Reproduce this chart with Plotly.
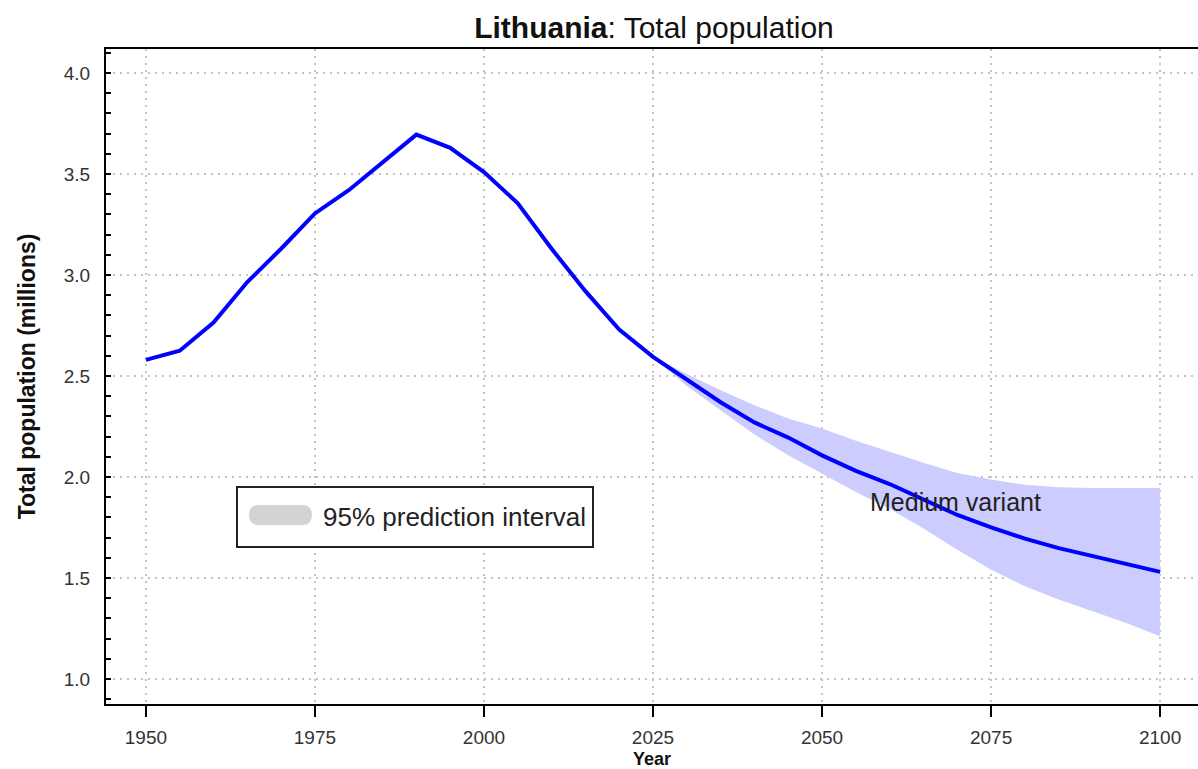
import plotly.graph_objects as go

# ---- data ----
years = [1950, 1955, 1960, 1965, 1970, 1975, 1980, 1985, 1990, 1995, 2000,
         2005, 2010, 2015, 2020, 2025, 2030, 2035, 2040, 2045, 2050, 2055,
         2060, 2065, 2070, 2075, 2080, 2085, 2090, 2095, 2100]
medium = [2.58, 2.625, 2.765, 2.965, 3.13, 3.305, 3.42, 3.56, 3.695, 3.63, 3.51,
          3.355, 3.13, 2.92, 2.73, 2.595, 2.48, 2.37, 2.27, 2.195, 2.107, 2.03,
          1.965, 1.887, 1.812, 1.75, 1.695, 1.648, 1.607, 1.571, 1.53]

pi_years = [2025, 2030, 2035, 2040, 2045, 2050, 2055, 2060, 2065, 2070, 2075,
            2080, 2085, 2090, 2095, 2100]
pi_upper = [2.595, 2.51, 2.43, 2.355, 2.29, 2.24, 2.18, 2.124, 2.07, 2.02, 1.987,
            1.962, 1.949, 1.946, 1.946, 1.946]
pi_lower = [2.595, 2.45, 2.33, 2.21, 2.107, 2.016, 1.926, 1.843, 1.745, 1.64, 1.541,
            1.459, 1.393, 1.335, 1.277, 1.211]

x_ticks = [1950, 1975, 2000, 2025, 2050, 2075, 2100]
y_ticks = [1.0, 1.5, 2.0, 2.5, 3.0, 3.5, 4.0]
y_tick_labels = ["1.0", "1.5", "2.0", "2.5", "3.0", "3.5", "4.0"]

title_bold = "Lithuania"
title_rest = ": Total population"
legend_label = "95% prediction interval"
variant_label = "Medium variant"

# ---- layout geometry (page pixels; body margin removed below) ----
W, H = 1198, 769
PL, PR, PT, PB = 106, 1198, 49, 704      # plot area in page pixels
ML, MR, MT, MB = PL, W - PR, PT, H - PB
PW = PR - PL
PH = PB - PT

def px(xp):
    return (xp - PL) / PW

def py(yp):
    return (PB - yp) / PH

FONT = "Liberation Sans, Arial, sans-serif"

fig = go.Figure()

fig.add_trace(go.Scatter(x=pi_years, y=pi_upper, mode="lines",
                         line=dict(width=0, color="rgba(0,0,0,0)"),
                         hoverinfo="skip", showlegend=False))
fig.add_trace(go.Scatter(x=pi_years, y=pi_lower, mode="lines",
                         line=dict(width=0, color="rgba(0,0,0,0)"),
                         fill="tonexty", fillcolor="#ccccff",
                         hoverinfo="skip", showlegend=False))
fig.add_trace(go.Scatter(x=years, y=medium, mode="lines",
                         line=dict(color="#0000ff", width=4),
                         showlegend=False, name="Medium variant"))

# legend box (drawn)
shapes = [
    dict(type="rect", xref="paper", yref="paper",
         x0=px(237), x1=px(593), y0=py(547), y1=py(487),
         line=dict(color="#222222", width=2), fillcolor="white", layer="above"),
]
bx0, bx1, by0, by1, r = 249, 312, 505, 525, 10
path = (f"M {px(bx0 + r)},{py(by0)} L {px(bx1 - r)},{py(by0)} "
        f"Q {px(bx1)},{py(by0)} {px(bx1)},{py(by0 + r)} "
        f"Q {px(bx1)},{py(by1)} {px(bx1 - r)},{py(by1)} "
        f"L {px(bx0 + r)},{py(by1)} "
        f"Q {px(bx0)},{py(by1)} {px(bx0)},{py(by1 - r)} "
        f"Q {px(bx0)},{py(by0)} {px(bx0 + r)},{py(by0)} Z")
shapes.append(dict(type="path", xref="paper", yref="paper", path=path,
                   fillcolor="#d3d3d3", line=dict(width=0), layer="above"))

annotations = [
    dict(text=legend_label, xref="paper", yref="paper", x=px(321), y=py(517),
         xanchor="left", yanchor="middle", showarrow=False,
         font=dict(family=FONT, size=26, color="#222222")),
    dict(text=variant_label, xref="x", yref="y", x=2069.8, y=1.875,
         xanchor="center", yanchor="middle", showarrow=False,
         font=dict(family=FONT, size=25, color="#222222")),
]

fig.update_layout(
    width=W, height=H,
    margin=dict(l=ML, r=MR, t=MT, b=MB),
    paper_bgcolor="white", plot_bgcolor="white",
    title=dict(text=f"<b>{title_bold}</b>{title_rest}",
               x=px(654), xref="paper", xanchor="center",
               y=1 - 27 / H, yref="container", yanchor="middle",
               font=dict(family=FONT, size=30, color="#111111")),
    shapes=shapes, annotations=annotations,
    showlegend=False,
    font=dict(family=FONT),
)

fig.update_xaxes(
    range=[1944.1, 2105.6], tickvals=x_ticks,
    ticks="outside", ticklen=11, tickwidth=2, tickcolor="black",
    ticklabelstandoff=4,
    tickfont=dict(family=FONT, size=19, color="#333333"),
    showline=True, linecolor="black", linewidth=2, mirror=True,
    showgrid=True, gridcolor="#c4c4c4", gridwidth=1.5, griddash="2px,5px",
    zeroline=False,
    title=dict(text="<b>Year</b>", font=dict(family=FONT, size=18, color="#111111"),
               standoff=8),
    automargin=False,
)
fig.update_yaxes(
    range=[0.876, 4.119], tickvals=y_ticks, ticktext=y_tick_labels,
    ticks="inside", ticklen=5, tickwidth=2, tickcolor="black",
    ticklabelstandoff=10,
    tickfont=dict(family=FONT, size=19, color="#333333"),
    minor=dict(dtick=0.1, tick0=0.0, ticks="inside", ticklen=5, tickwidth=1.5,
               tickcolor="black", showgrid=False),
    showline=True, linecolor="black", linewidth=2, mirror=False,
    showgrid=True, gridcolor="#c4c4c4", gridwidth=1.5, griddash="2px,5px",
    zeroline=False,
    title=dict(text="<b>Total population (millions)</b>",
               font=dict(family=FONT, size=23, color="#111111"), standoff=22),
    automargin=False,
)

fig.write_html(
    "out.html",
    config={"displayModeBar": False},
    post_script="document.body.style.margin='0';document.body.style.overflow='hidden';",
)
